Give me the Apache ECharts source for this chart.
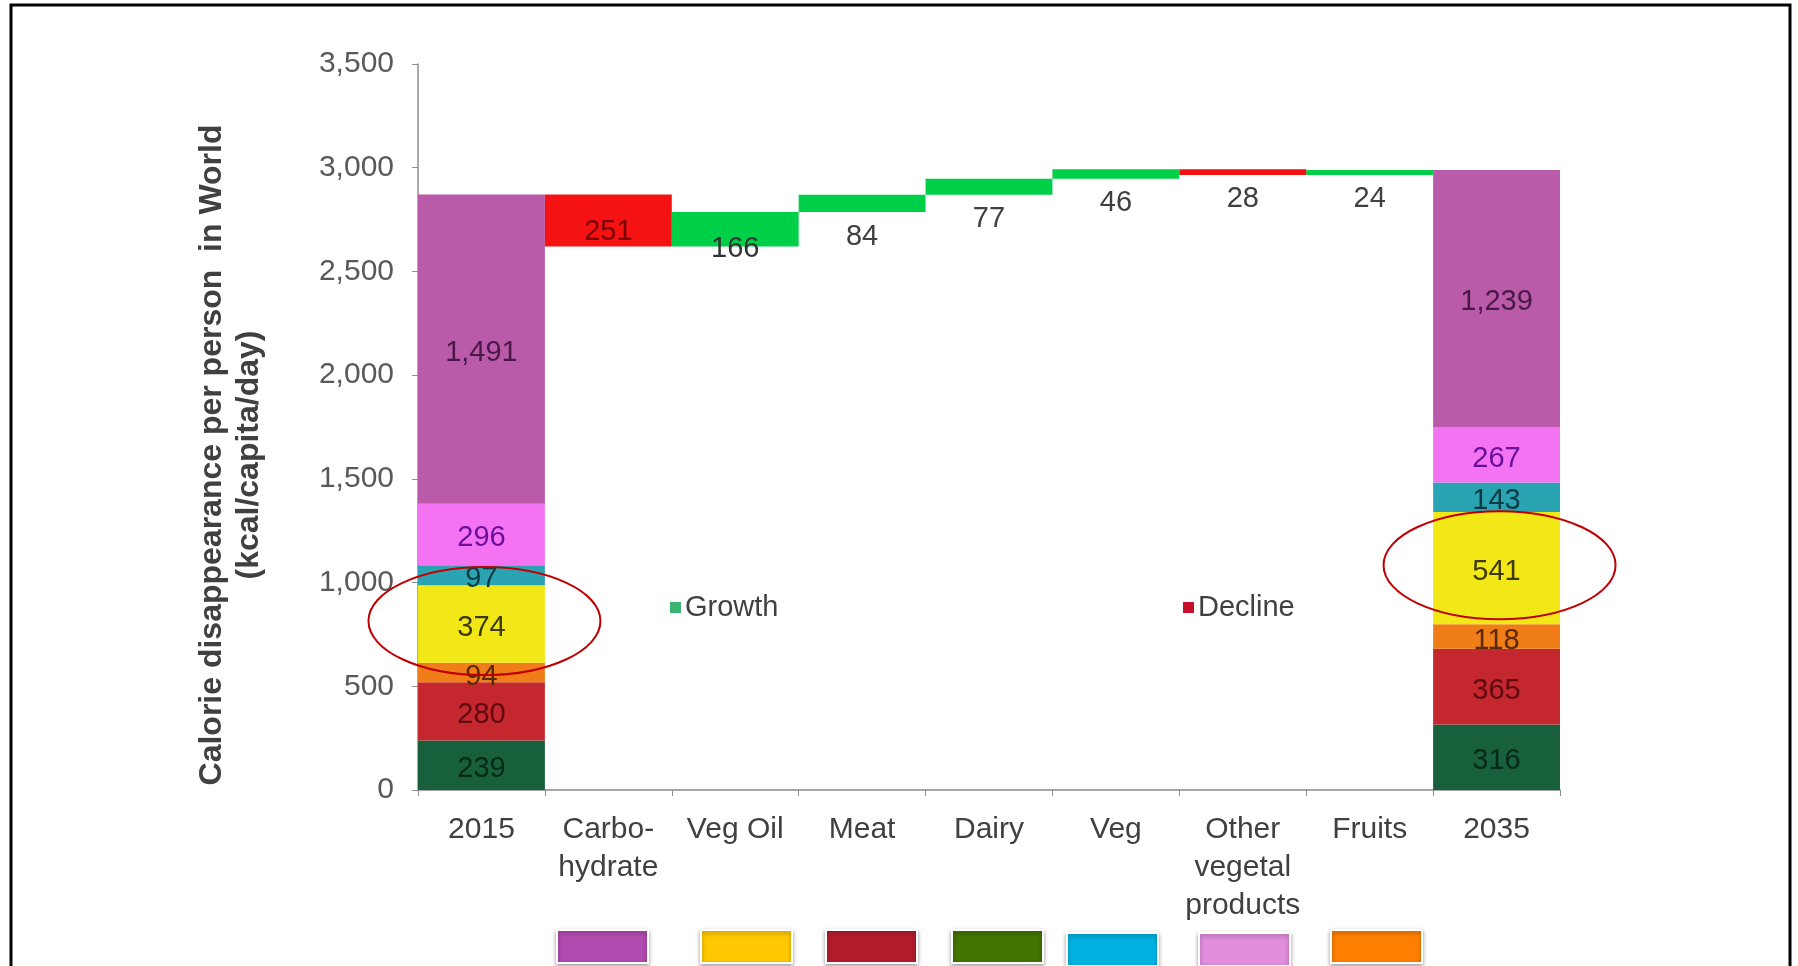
<!DOCTYPE html>
<html>
<head>
<meta charset="utf-8">
<script src="https://cdn.jsdelivr.net/npm/echarts@6/dist/echarts.min.js"></script>
<style>
html,body{margin:0;padding:0;background:#fff;}
#chart{width:1798px;height:966px;}
</style>
</head>
<body>
<div id="chart"></div>
<script>
// ---- data ----
const categories = ['2015', 'Carbo-\nhydrate', 'Veg Oil', 'Meat', 'Dairy', 'Veg', 'Other\nvegetal\nproducts', 'Fruits', '2035'];
// stacked segments (bottom to top) for the 2015 and 2035 columns
const segmentNames = ['Dairy', 'Meat', 'Fruits', 'Veg Oil', 'Veg', 'Other vegetal products', 'Carbohydrate'];
const values2015 = [239, 280, 94, 374, 97, 296, 1491];
const values2035 = [316, 365, 118, 541, 143, 267, 1239];
// changes between 2015 and 2035 for the middle categories
const changes = [-251, 166, 84, 77, 46, -28, 24];
const yTicks = { min: 0, max: 3500, interval: 500 };

// ---- styles ----
const segColors = ['#17603b', '#c4282e', '#f07d18', '#f3e817', '#2aa4b3', '#f473f2', '#b95ba8'];
const segLabelColors = ['#062a17', '#5e0a10', '#5a2a00', '#3d3a00', '#083a44', '#6b0f9a', '#4a1848'];
const growthColor = '#00cf48';
const declineColor = '#f41212';
const FONT = 'Liberation Sans, Arial, sans-serif';

// ---- build waterfall series ----
const n = categories.length;
const total2015 = values2015.reduce((a, b) => a + b, 0);
const baseData = new Array(n).fill('-');
const growthData = new Array(n).fill('-');
const declineData = new Array(n).fill('-');
let running = total2015;
changes.forEach((c, i) => {
  const idx = i + 1;
  if (c >= 0) {
    baseData[idx] = running;
    growthData[idx] = c;
  } else {
    baseData[idx] = running + c;
    declineData[idx] = -c;
  }
  running += c;
});

function changeLabel(v) {
  if (v > 200) return { position: 'inside', offset: [0, 11], color: '#7a0000' };
  if (v > 100) return { position: 'insideBottom', offset: [0, 22], color: '#333' };
  return { position: 'bottom', distance: 10, color: '#404040' };
}
function withLabels(arr) {
  return arr.map(v => v === '-' ? '-' : { value: v, label: changeLabel(v) });
}

const fmt = v => Number(v).toLocaleString('en-US');

const series = [{
  name: 'base', type: 'bar', stack: 'w', data: baseData,
  itemStyle: { color: 'transparent' }, silent: true, barCategoryGap: '0%'
}];
segmentNames.forEach((name, k) => {
  const d = new Array(n).fill('-');
  d[0] = values2015[k];
  d[n - 1] = values2035[k];
  series.push({
    name, type: 'bar', stack: 'w', data: d, barCategoryGap: '0%',
    itemStyle: { color: segColors[k] },
    label: {
      show: true, position: 'inside', offset: [0, 4], formatter: p => fmt(p.value),
      color: segLabelColors[k], fontFamily: FONT, fontSize: 29
    }
  });
});
series.push({
  name: 'Growth', type: 'bar', stack: 'w', data: withLabels(growthData), barCategoryGap: '0%',
  itemStyle: { color: growthColor },
  label: { show: true, fontFamily: FONT, fontSize: 29, formatter: p => fmt(p.value) }
});
series.push({
  name: 'Decline', type: 'bar', stack: 'w', data: withLabels(declineData), barCategoryGap: '0%',
  itemStyle: { color: declineColor },
  label: { show: true, fontFamily: FONT, fontSize: 29, formatter: p => fmt(p.value) }
});

const chart = echarts.init(document.getElementById('chart'), null, { renderer: 'canvas' });

const swatchColors = ['#b04bb0', '#ffc800', '#b41b2c', '#437400', '#00b2e2', '#e08ddc', '#ff7f00'];
const swatchX = [557, 701, 826, 952, 1067, 1199, 1331];
const swatchY = [930, 930, 930, 930, 933, 933, 930];

const graphics = [{
  id: 'frame', type: 'rect', silent: true, z: 100,
  shape: { x: 11, y: 5, width: 1779, height: 1000 },
  style: { fill: 'none', stroke: '#000', lineWidth: 3 }
}];
swatchColors.forEach((c, i) => {
  graphics.push({
    id: 'sw' + i, type: 'rect', silent: true,
    shape: { x: swatchX[i], y: swatchY[i], width: 91, height: 33 },
    style: { fill: c, stroke: '#fff', lineWidth: 2, shadowBlur: 4, shadowOffsetY: 2, shadowColor: 'rgba(0,0,0,0.35)' }
  });
});

chart.setOption({
  animation: false,
  backgroundColor: '#fff',
  grid: { left: 418, right: 238, top: 64, bottom: 176, containLabel: false },
  legend: [{
    data: [{ name: 'Growth', itemStyle: { color: '#3cb371' } }],
    left: 665, top: 588, icon: 'rect', itemWidth: 11, itemHeight: 11, itemGap: 4,
    textStyle: { fontFamily: FONT, fontSize: 29, color: '#404040', padding: [0, 0, 0, -1] }
  }, {
    data: [{ name: 'Decline', itemStyle: { color: '#c8102e' } }],
    left: 1178, top: 588, icon: 'rect', itemWidth: 11, itemHeight: 11, itemGap: 4,
    textStyle: { fontFamily: FONT, fontSize: 29, color: '#404040', padding: [0, 0, 0, -1] }
  }],
  xAxis: {
    type: 'category', data: categories,
    axisLine: { lineStyle: { color: '#a6a6a6', width: 2 } },
    axisTick: { show: true, alignWithLabel: false, length: 6, lineStyle: { color: '#8c8c8c' } },
    axisLabel: { interval: 0, margin: 21, fontFamily: FONT, fontSize: 30, color: '#404040', lineHeight: 38 }
  },
  yAxis: {
    type: 'value', min: yTicks.min, max: yTicks.max, interval: yTicks.interval,
    splitLine: { show: false },
    axisLine: { show: true, lineStyle: { color: '#8c8c8c', width: 1.5 } },
    axisTick: { show: true, length: 6, lineStyle: { color: '#8c8c8c' } },
    axisLabel: { margin: 24, fontFamily: FONT, fontSize: 30, color: '#595959', formatter: v => fmt(v) },
    name: 'Calorie disappearance per person  in World\n(kcal/capita/day)',
    nameLocation: 'middle', nameRotate: 90, nameGap: 150,
    nameTextStyle: { fontFamily: FONT, fontSize: 32, fontWeight: 'bold', color: '#404040', lineHeight: 37, padding: [0, 56, 0, 0] }
  },
  series,
  graphic: graphics
});

// annotation ellipses around the Veg Oil (yellow) segment of both end columns
const yellowIdx = 3;
function segMid(vals) {
  let s = 0;
  for (let k = 0; k < yellowIdx; k++) s += vals[k];
  return s + vals[yellowIdx] / 2;
}
const p1 = chart.convertToPixel({ xAxisIndex: 0, yAxisIndex: 0 }, [0, segMid(values2015)]);
const p2 = chart.convertToPixel({ xAxisIndex: 0, yAxisIndex: 0 }, [n - 1, segMid(values2035)]);
const ell = (id, p) => ({
  id, type: 'ellipse', silent: true, z: 50,
  shape: { cx: p[0] + 3, cy: p[1] - 3, rx: 116, ry: 54 },
  style: { fill: 'none', stroke: '#c00000', lineWidth: 2 }
});
chart.setOption({ graphic: [ell('e1', p1), ell('e2', p2)] });
</script>
</body>
</html>
